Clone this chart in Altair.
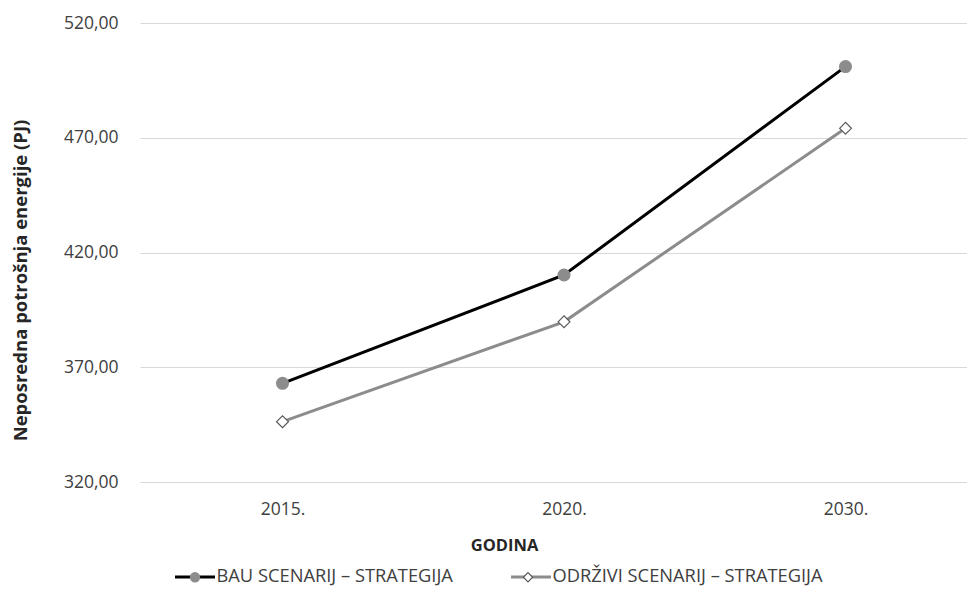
import altair as alt
import pandas as pd

years = ["2015.", "2020.", "2030."]
series_names = ["BAU SCENARIJ – STRATEGIJA", "ODRŽIVI SCENARIJ – STRATEGIJA"]
bau = [363.0, 410.2, 501.0]
odr = [346.3, 389.8, 474.1]
y_ticks = [320, 370, 420, 470, 520]

rows = []
for name, vals in zip(series_names, [bau, odr]):
    for yr, v in zip(years, vals):
        rows.append({"godina": yr, "vrijednost": v, "serija": name, "serija_p": name})
df = pd.DataFrame(rows)

FONT = "Open Sans"

x_enc = alt.X(
    "godina:N",
    sort=years,
    scale=alt.Scale(type="point", padding=0.4689, align=0.5398),
    axis=alt.Axis(
        title="GODINA",
        labelAngle=0,
        ticks=False,
        tickSize=0,
        domain=False,
        grid=False,
        labelFont=FONT,
        labelFontSize=17.5,
        labelColor="#404040",
        labelBaseline="middle",
        labelPadding=27,
        titleFont=FONT,
        titleFontSize=16.5,
        titleFontWeight="bold",
        titleColor="#262626",
        titleX=364,
        titleY=63,
        titleAlign="center",
        titleBaseline="middle",
    ),
)

y_enc = alt.Y(
    "vrijednost:Q",
    scale=alt.Scale(domain=[320, 520], nice=False, zero=False),
    axis=alt.Axis(
        title="Neposredna potrošnja energije (PJ)",
        values=y_ticks,
        labelExpr="replace(format(datum.value, '.2f'), '.', ',')",
        ticks=False,
        tickSize=0,
        domain=False,
        grid=True,
        gridColor="#d9d9d9",
        gridWidth=1,
        labelFont=FONT,
        labelFontSize=17.5,
        labelColor="#404040",
        labelPadding=22,
        titleFont=FONT,
        titleFontSize=18.5,
        titleFontWeight="bold",
        titleColor="#262626",
        titleX=-120,
        titleY=257,
        titleAngle=-90,
        titleAlign="center",
        titleBaseline="middle",
    ),
)

legend_line = alt.Legend(
    orient="none",
    legendX=33.5,
    legendY=532.5,
    direction="horizontal",
    title=None,
    symbolType="stroke",
    symbolSize=1600,
    symbolStrokeWidth=3,
    labelFont=FONT,
    labelFontSize=18.3,
    labelColor="#404040",
    labelOffset=0,
    labelLimit=500,
    columnPadding=51,
    padding=0,
)

legend_pts = alt.Legend(
    orient="none",
    legendX=45.85,
    legendY=544.85,
    direction="horizontal",
    title=None,
    symbolSize=85,
    symbolStrokeWidth=1.2,
    labelFont=FONT,
    labelFontSize=18.3,
    labelExpr="''",
    labelOffset=25.5,
    labelLimit=500,
    columnPadding=289,
    padding=0,
)

lines = alt.Chart(df).mark_line(strokeWidth=3).encode(
    x=x_enc,
    y=y_enc,
    color=alt.Color(
        "serija:N",
        scale=alt.Scale(domain=series_names, range=["#000000", "#8c8c8c"]),
        legend=legend_line,
    ),
)

points = alt.Chart(df).mark_point(filled=True, strokeWidth=1.2, opacity=1, size=140).encode(
    x=x_enc,
    y=y_enc,
    shape=alt.Shape(
        "serija_p:N",
        scale=alt.Scale(range=["circle", "diamond"]),
        legend=legend_pts,
    ),
    fill=alt.Fill(
        "serija_p:N",
        scale=alt.Scale(range=["#8c8c8c", "#ffffff"]),
        legend=legend_pts,
    ),
    stroke=alt.Stroke(
        "serija_p:N",
        scale=alt.Scale(range=["#8c8c8c", "#595959"]),
        legend=legend_pts,
    ),
)

chart = (
    alt.layer(lines, points)
    .properties(
        width=827,
        height=459,
        autosize=alt.AutoSizeParams(type="none"),
        padding={"left": 132, "top": 15, "right": 0, "bottom": 104},
        background="white",
    )
    .configure_view(stroke=None)
)

chart.save("out.html", embed_options={"renderer": "svg", "actions": False})
